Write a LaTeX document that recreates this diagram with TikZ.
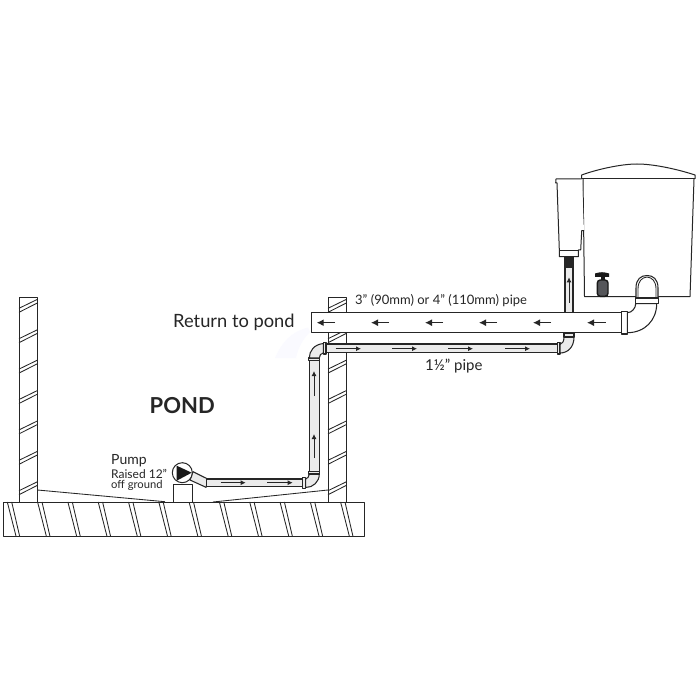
\documentclass[tikz,border=0pt]{standalone}
\usepackage{fontspec}
\setmainfont{Lato}
\usetikzlibrary{arrows.meta}
\definecolor{ink}{HTML}{262626}
\definecolor{pipefill}{HTML}{EBEBEB}
\definecolor{valvegrey}{HTML}{55565A}
\tikzset{
  ln/.style={draw=ink,line width=1pt,line join=round},
  thin ln/.style={draw=ink,line width=0.85pt},
  pipeline/.style={draw=ink,line width=1.05pt,line join=round},
  flow big/.style={draw=ink,line width=1.2pt,-{Latex[length=7pt,width=7pt]}},
  flow small/.style={draw=ink,line width=0.9pt,-{Latex[length=5pt,width=5pt]}},
  lbl/.style={inner sep=0,text=ink,anchor=west}
}
\begin{document}
\begin{tikzpicture}[x=1pt,y=-1pt]
\useasboundingbox[fill=white] (0,0) rectangle (700,700);
% faint watermark
\fill[black!5!blue!2] (275,358) .. controls (282,342) and (291,332) .. (308,327.5) -- (310,332) .. controls (302,340) and (298,348) .. (296,358) -- cycle;
% walls
\draw[ln] (19,502) -- (19,297) -- (37.5,297) -- (37.5,502);
\draw[ln] (328,502) -- (328,297) -- (346.5,297) -- (346.5,502);
\foreach \i in {0,...,6}{
  \pgfmathsetmacro{\d}{30.4*\i}
  \draw[thin ln] (19,308.3+\d) -- (37.5,299.3+\d) (19,312.3+\d) -- (37.5,302.9+\d);
  \draw[thin ln] (328,308.3+\d) -- (346.5,299.3+\d) (328,312.3+\d) -- (346.5,302.9+\d);
}
% ground
\draw[ln] (3,502) rectangle (364,536);
\foreach \i in {0,...,11}{
  \pgfmathsetmacro{\d}{30.3*\i}
  \draw[thin ln] (7.3+\d,502) -- (16+\d,536) (11.7+\d,502) -- (19.6+\d,536);
}
% ground slopes
\draw[thin ln] (37.5,490) -- (165,501.7);
\draw[thin ln] (213,502) -- (328,490);
% pump stand
\draw[ln,fill=white] (173.5,502) -- (173.5,484.5) -- (192.3,484.5) -- (192.3,502);
% pump outlet
\draw[pipeline,fill=pipefill] (193,471.7) -- (208.3,479.3) -- (206,487.3) -- (190,480) -- cycle;
\draw[ln,fill=white] (182.3,472.7) circle (10);
\fill[black!90] (176.7,465.7) -- (191.7,472.7) -- (176.7,480.7) -- cycle;
% low horizontal pipe
\draw[pipeline,fill=pipefill] (206.7,479) rectangle (302.3,486.7);
\draw[pipeline,fill=pipefill] (302.3,477.5) rectangle (305.7,488.3);
% lower elbow
\draw[pipeline,fill=pipefill] (305.7,479) .. controls (307.5,478.5) and (309.3,476.5) .. (309.3,474) -- (319.3,474) .. controls (319.3,482) and (313,487.5) .. (305.7,487.5) -- cycle;
% vertical pipe
\draw[pipeline,fill=pipefill] (309.3,360) rectangle (319.3,472);
\draw[pipeline,fill=pipefill] (308.7,471.5) rectangle (319.9,474);
\draw[pipeline,fill=pipefill] (308.7,358) rectangle (319.9,360.3);
% upper elbow
\draw[pipeline,fill=pipefill] (309.3,358) .. controls (309.3,351) and (314,344.5) .. (323.3,343.5) -- (323.3,353) .. controls (321,353.5) and (319.3,355) .. (319.3,358) -- cycle;
% upper horizontal pipe
\draw[pipeline,fill=pipefill] (326,344) rectangle (557.3,352.7);
\draw[pipeline,fill=pipefill] (323.3,342.7) rectangle (326,354);
\draw[pipeline,fill=pipefill] (557.3,342.7) rectangle (560,354);
% right elbow of return
\draw[pipeline,fill=pipefill] (560,344.5) .. controls (562.5,344) and (564,341) .. (564,337) -- (574,337) .. controls (574,347) and (568,353) .. (560,353) -- cycle;
\draw[pipeline,fill=pipefill] (564,333) rectangle (574,337);
% vertical to skimmer
\draw[pipeline,fill=pipefill] (565,267) rectangle (573,313);
% main pipe
\draw[pipeline,fill=white] (311.7,312.7) rectangle (621.7,332.3);
\draw[pipeline,fill=white] (621.7,311.7) rectangle (627.3,334);
% main elbow
\draw[pipeline,fill=white] (627.3,312.7) .. controls (632,312.7) and (635.7,308) .. (635.7,303.5) -- (656.7,303.5) .. controls (656.7,320) and (645,332.7) .. (627.3,332.7) -- cycle;
% tank
\draw[ln,fill=white] (583,179) -- (584.5,296.7) -- (690,296.7) -- (694,179);
\draw[ln] (581.7,179) -- (695,179);
\draw[ln] (581.7,179) -- (581.7,175) .. controls (595,170) and (620,164) .. (637,164) .. controls (655,164) and (680,170) .. (695,175) -- (695,179);
% U bend
\draw[pipeline,fill=white] (636,298) -- (636,288) .. controls (636,279) and (641,275.5) .. (647,275.5) .. controls (653,275.5) and (658,279) .. (658,288) -- (658,298);
\draw[thin ln] (638,298) -- (638,289) .. controls (638,281) and (642,277.5) .. (647,277) .. controls (652,277.5) and (656,281) .. (656,289) -- (656,298);
\draw[pipeline,fill=white] (635.7,298) rectangle (658.3,303.5);
% skimmer box
\draw[ln,fill=white] (581.7,179) -- (556,179) -- (555.7,183) -- (557,183) -- (559.3,250) -- (559.3,256.7) -- (578.3,256.7) -- (578.3,250) -- (580.7,250) -- (581.7,230.7) -- (584,230.7);
\draw[thin ln] (559.3,250) -- (578.3,250);
\fill[black!85] (564,256.7) rectangle (574.3,267.3);
% valve
\fill[black!90] (595,273.5) .. controls (600,271.8) and (604,271.8) .. (609,273.5) -- (609,276.8) -- (595,276.8) -- cycle;
\fill[black!90] (600.5,276) rectangle (604.5,282);
\draw[draw=black!90,line width=1.4pt,fill=valvegrey,rounded corners=3pt] (597.3,280) rectangle (608,296.3);
% flow arrows
\foreach \a/\b in {335/316.7,389/371,443/425,497/479,551/533,605.7/587}
  \draw[flow big] (\a,322.7) -- (\b,322.7);
\foreach \a/\b in {335.7/361,392/417,448/473,505/530}
  \draw[flow small] (\a,348.7) -- (\b,348.7);
\foreach \a/\b in {220.7/245.7,267.3/292.7}
  \draw[flow small] (\a,482.7) -- (\b,482.7);
\foreach \a/\b in {458/434,396/371}
  \draw[flow small] (314,\a) -- (314,\b);
\draw[flow small] (569,302.7) -- (569,277.3);
% labels
\node[lbl,font=\fontsize{13}{14}\selectfont] (pipeA) at (355,300.5) {3” (90mm) or 4” (110mm) pipe};
\node[lbl,font=\fontsize{18.3}{20}\selectfont] (ret) at (173,322) {Return to pond};
\node[lbl,font=\fontsize{15}{16}\selectfont] (pipeB) at (425,366.5) {1½” pipe};
\node[lbl,font=\fontsize{22}{24}\bfseries\selectfont] (pond) at (149.5,406) {POND};
\node[lbl,font=\fontsize{14}{15}\selectfont] (pump) at (111,461) {Pump};
\node[lbl,font=\fontsize{12}{13}\selectfont] (raised) at (111,473.5) {Raised 12”};
\node[lbl,font=\fontsize{11.2}{12}\selectfont] (off) at (111,485) {off ground};
\end{tikzpicture}
\end{document}
